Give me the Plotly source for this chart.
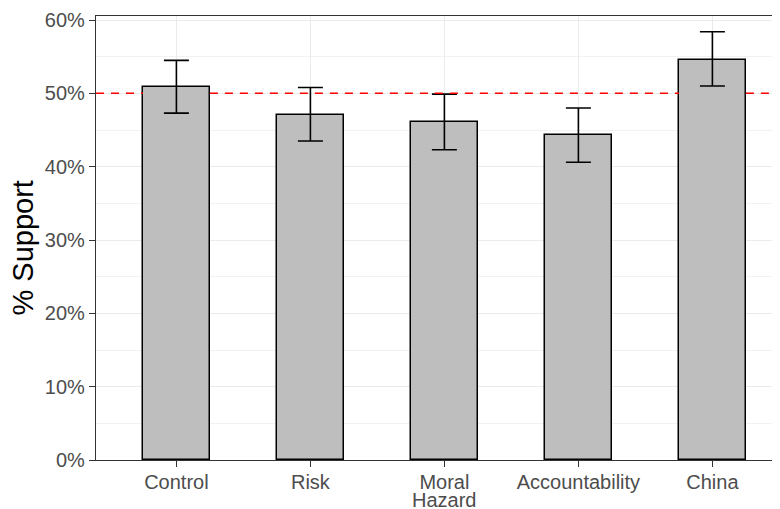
import plotly.graph_objects as go

categories = ["Control", "Risk", "Moral\nHazard", "Accountability", "China"]
support = [0.509, 0.471, 0.461, 0.443, 0.546]
upper = [0.545, 0.508, 0.499, 0.480, 0.584]
lower = [0.473, 0.435, 0.423, 0.406, 0.510]
ytick_vals = [0, 0.1, 0.2, 0.3, 0.4, 0.5, 0.6]
ytick_text = ["0%", "10%", "20%", "30%", "40%", "50%", "60%"]
reference_level = 0.5

BAR_W = 0.5
X_LO, X_HI = -0.6, -0.6 + 692 / 134
TICK_FONT = dict(family="Liberation Sans, Arial, sans-serif", size=20, color="#4D4D4D")

xpos = list(range(len(categories)))
err_plus = [u - s for u, s in zip(upper, support)]
err_minus = [s - l for s, l in zip(support, lower)]

fig = go.Figure()
fig.add_trace(go.Bar(
    x=xpos, y=support, width=BAR_W,
    marker=dict(color="#BEBEBE", line=dict(color="#000000", width=1.5)),
    error_y=dict(type="data", symmetric=False, array=err_plus, arrayminus=err_minus,
                 color="#000000", thickness=1.6, width=12.5),
    showlegend=False,
))

# reference line hidden behind bars that rise above it
segments = []
start = X_LO
for xp, s in zip(xpos, support):
    if s > reference_level:
        segments.append((start, xp - BAR_W / 2))
        start = xp + BAR_W / 2
segments.append((start, X_HI))
for a, b in segments:
    fig.add_shape(type="line", xref="x", x0=a, x1=b, yref="y", y0=reference_level, y1=reference_level,
                  line=dict(color="#FF0000", width=1.5, dash="8px,7px"), layer="above")

# first line of each category as tick label, further lines tighter spaced below
first_lines = [c.split("\n")[0] for c in categories]
for xp, c in zip(xpos, categories):
    for i, extra in enumerate(c.split("\n")[1:], start=1):
        fig.add_annotation(text=extra, x=xp, xref="x", y=0, yref="paper",
                           yshift=-21 - 19 * i, xanchor="center", yanchor="middle",
                           showarrow=False, borderpad=0, font=TICK_FONT)

fig.add_annotation(text="% Support", xref="paper", yref="paper", x=-0.105, y=0.477,
                   xanchor="center", yanchor="middle", textangle=-90, showarrow=False,
                   borderpad=0,
                   font=dict(family="Liberation Sans, Arial, sans-serif", size=29, color="#000000"))

fig.update_layout(
    width=780, height=509,
    margin=dict(l=88, r=0, t=8, b=57),
    paper_bgcolor="white", plot_bgcolor="white",
    font=dict(family="Liberation Sans, Arial, sans-serif"),
    bargap=0,
)
fig.update_xaxes(
    tickmode="array", tickvals=xpos, ticktext=first_lines,
    range=[X_LO, X_HI], automargin=False,
    showgrid=True, gridcolor="#EBEBEB", gridwidth=1.4,
    showline=True, linecolor="#333333", linewidth=1.3, mirror=True,
    ticks="outside", ticklen=6, tickcolor="#333333", tickwidth=1.3,
    tickfont=TICK_FONT, zeroline=False,
    ticklabelstandoff=-2,
)
fig.update_yaxes(
    tickmode="array", tickvals=ytick_vals, ticktext=ytick_text,
    range=[0, 0.6055], automargin=False,
    showgrid=True, gridcolor="#EBEBEB", gridwidth=1.4,
    minor=dict(dtick=0.05, tick0=0.05, showgrid=True, gridcolor="#F2F2F2", gridwidth=0.8, ticks=""),
    showline=True, linecolor="#333333", linewidth=1.3,
    ticks="outside", ticklen=6, tickcolor="#333333", tickwidth=1.3,
    tickfont=TICK_FONT, zeroline=False,
)

fig.write_html("out.html")
